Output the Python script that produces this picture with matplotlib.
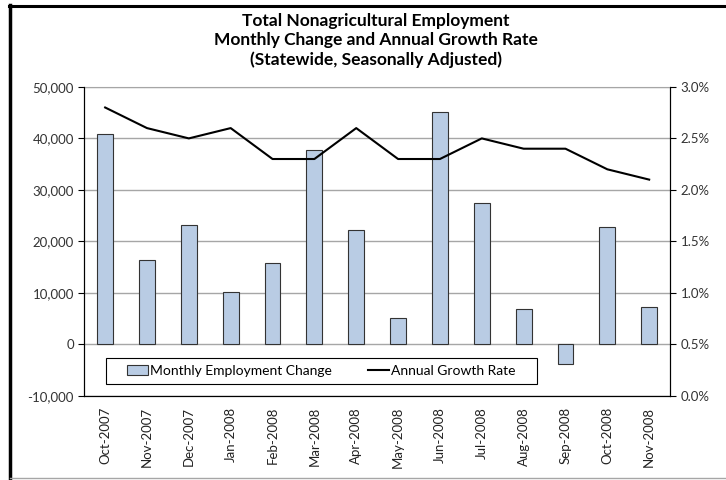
import matplotlib.pyplot as plt
from matplotlib.lines import Line2D
from matplotlib.patches import Rectangle
from matplotlib.ticker import FuncFormatter
import numpy as np

plt.rcParams['font.family'] = ['Lato', 'DejaVu Sans']

# data
months = ["Oct-2007", "Nov-2007", "Dec-2007", "Jan-2008", "Feb-2008", "Mar-2008",
          "Apr-2008", "May-2008", "Jun-2008", "Jul-2008", "Aug-2008", "Sep-2008",
          "Oct-2008", "Nov-2008"]
monthly_change = [40900, 16400, 23200, 10200, 15900, 37800, 22300,
                  5100, 45200, 27500, 6900, -3700, 22800, 7300]
growth_rate = [2.8, 2.6, 2.5, 2.6, 2.3, 2.3, 2.6, 2.3, 2.3, 2.5, 2.4, 2.4, 2.2, 2.1]

left_ticks = [-10000, 0, 10000, 20000, 30000, 40000, 50000]
right_ticks = [0.0, 0.5, 1.0, 1.5, 2.0, 2.5, 3.0]

fig = plt.figure(figsize=(7.26, 4.80), dpi=100)
ax = fig.add_axes([0.116, 0.175, 0.807, 0.644])

x = np.arange(len(months))
bars = ax.bar(x, monthly_change, width=0.38, color='#b9cce4', edgecolor='#333333',
              linewidth=0.8, label='Monthly Employment Change', zorder=2)
ax.set_xlim(-0.5, len(months) - 0.5)
ax.set_ylim(-10000, 50000)
ax.set_yticks(left_ticks)
ax.yaxis.set_major_formatter(FuncFormatter(lambda v, p: f"{v:,.0f}"))
ax.grid(axis='y', color='#a6a6a6', linewidth=1, zorder=0)
ax.set_axisbelow(True)
ax.set_xticks(x)
ax.set_xticklabels(months, rotation=90, fontsize=9.5, color='#222222')
ax.tick_params(axis='x', length=0, pad=8)
ax.tick_params(axis='y', labelsize=9.5, length=4, direction='out', labelcolor='#333333')
ax.spines['top'].set_color('#a6a6a6')

ax2 = ax.twinx()
line, = ax2.plot(x, growth_rate, color='black', linewidth=1.5, label='Annual Growth Rate', zorder=3)
ax2.set_ylim(0, 3.0)
ax2.set_yticks(right_ticks)
ax2.yaxis.set_major_formatter(FuncFormatter(lambda v, p: f"{v:.1f}%"))
ax2.tick_params(axis='y', labelsize=9.5, length=4, direction='out', labelcolor='#333333')
ax2.spines['top'].set_visible(False)

# legend box drawn separately so the entries sit centred with wide side margins
box = Rectangle((0.0376, 0.0388), 0.735, 0.084, transform=ax2.transAxes,
                facecolor='white', edgecolor='black', linewidth=0.8, zorder=4)
ax2.add_patch(box)
leg = ax2.legend([bars, line], ['Monthly Employment Change', 'Annual Growth Rate'],
                 loc='center', bbox_to_anchor=(0.405, 0.081), ncol=2, fontsize=10,
                 frameon=False, handlelength=1.5, handletextpad=0.15,
                 columnspacing=2.6, borderaxespad=0)
leg.set_zorder(5)

fig.text(0.518, 0.972, "Total Nonagricultural Employment\n"
         "Monthly Change and Annual Growth Rate\n(Statewide, Seasonally Adjusted)",
         ha='center', va='top', fontsize=12.5, fontweight='bold', linespacing=1.22)

# outer frame: thick left/top, thin grey bottom
fig.add_artist(Line2D([9.5 / 726, 9.5 / 726], [0, 1 - 5 / 480], transform=fig.transFigure,
                      color='black', linewidth=2.5))
fig.add_artist(Line2D([8.5 / 726, 1], [1 - 6 / 480, 1 - 6 / 480], transform=fig.transFigure,
                      color='black', linewidth=2.2))
fig.add_artist(Line2D([9.5 / 726, 1], [2 / 480, 2 / 480], transform=fig.transFigure,
                      color='#a6a6a6', linewidth=1))

fig.savefig('out.png', dpi=100)
